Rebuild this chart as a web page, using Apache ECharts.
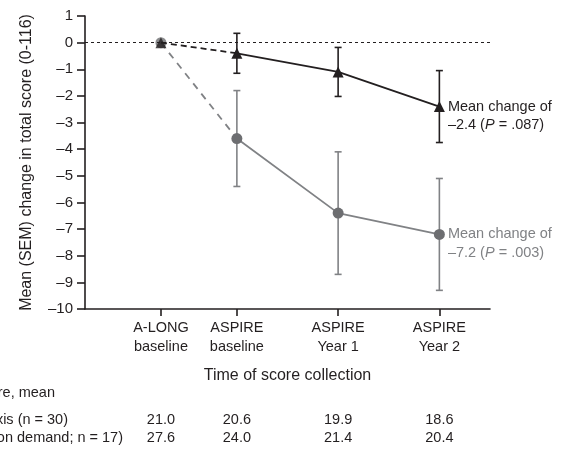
<!DOCTYPE html>
<html>
<head>
<meta charset="utf-8">
<script src="https://cdn.jsdelivr.net/npm/echarts@6/dist/echarts.min.js"></script>
<style>
html,body{margin:0;padding:0;background:#fff;}
#chart{width:564px;height:449px;}
</style>
</head>
<body>
<div id="chart"></div>
<script>
// ---- data ----
const timePoints = [0, 9, 21, 33]; // months from A-LONG baseline
const categories = ['A-LONG\nbaseline', 'ASPIRE\nbaseline', 'ASPIRE\nYear 1', 'ASPIRE\nYear 2'];
const prophylaxisMean = [0, -0.4, -1.1, -2.4];
const prophylaxisSem = [0, 0.75, 0.92, 1.35];
const onDemandMean = [0, -3.6, -6.4, -7.2];
const onDemandSem = [0, 1.8, 2.3, 2.1];
const prophylaxisNote = ['Mean change of', '–2.4 (', 'P', ' = .087)'];
const onDemandNote = ['Mean change of', '–7.2 (', 'P', ' = .003)'];
const tableLabels = ['Total score, mean', 'Prophylaxis (n = 30)', 'Episodic (on demand; n = 17)'];
const prophylaxisScore = ['21.0', '20.6', '19.9', '18.6'];
const onDemandScore = ['27.6', '24.0', '21.4', '20.4'];
const yTitle = 'Mean (SEM) change in total score (0-116)';
const xTitle = 'Time of score collection';

const FONT = '"Liberation Sans", Arial, sans-serif';
const BLACK = '#231f20';
const GRAY_LINE = '#808285';
const GRAY_MARK = '#6d6e71';
const FS = 14.5;

function pts(means, from, to) {
  const out = [];
  for (let i = from; i <= to; i++) out.push([timePoints[i], means[i]]);
  return out;
}
function errData(means, sems) {
  const out = [];
  for (let i = 1; i < means.length; i++) out.push([timePoints[i], means[i] - sems[i], means[i] + sems[i]]);
  return out;
}
function errSeries(means, sems, color, z) {
  return {
    type: 'custom', z: z, silent: true,
    data: errData(means, sems),
    renderItem: function (params, api) {
      const x = api.value(0);
      const lo = api.coord([x, api.value(1)]);
      const hi = api.coord([x, api.value(2)]);
      const w = 3.5;
      const st = { stroke: color, lineWidth: 1.6 };
      return { type: 'group', children: [
        { type: 'line', shape: { x1: lo[0], y1: lo[1], x2: hi[0], y2: hi[1] }, style: st },
        { type: 'line', shape: { x1: lo[0] - w, y1: lo[1], x2: lo[0] + w, y2: lo[1] }, style: st },
        { type: 'line', shape: { x1: hi[0] - w, y1: hi[1], x2: hi[0] + w, y2: hi[1] }, style: st }
      ]};
    }
  };
}
function noteLabel(note, color) {
  return {
    show: true, position: 'right', distance: 3, offset: [0, 9.3],
    formatter: '{a|' + note[0] + '}\n{a|' + note[1] + '}{i|' + note[2] + '}{a|' + note[3] + '}',
    rich: {
      a: { fontFamily: FONT, fontSize: FS, color: color, lineHeight: 18.6 },
      i: { fontFamily: FONT, fontSize: FS, color: color, lineHeight: 18.6, fontStyle: 'italic' }
    }
  };
}
function solidData(means, note, color) {
  const d = pts(means, 1, 3);
  const last = d.length - 1;
  d[last] = { value: d[last], label: noteLabel(note, color) };
  return d;
}

const chart = echarts.init(document.getElementById('chart'), null, { renderer: 'canvas' });
const option = {
  animation: false,
  backgroundColor: '#fff',
  textStyle: { fontFamily: FONT },
  grid: { left: 85, right: 74, top: 16, bottom: 140, containLabel: false, outerBoundsMode: 'none' },
  xAxis: {
    type: 'value', min: -9, max: 39,
    splitLine: { show: false },
    axisLine: { show: true, onZero: false, lineStyle: { color: BLACK, width: 1.6 } },
    axisTick: { show: true, customValues: timePoints, length: 7, lineStyle: { color: BLACK, width: 1.6 } },
    axisLabel: {
      customValues: timePoints, margin: 9.5,
      fontFamily: FONT, fontSize: FS, color: BLACK, lineHeight: 19,
      formatter: function (v) { const i = timePoints.indexOf(v); return i >= 0 ? categories[i] : ''; }
    },
    name: xTitle, nameLocation: 'middle', nameGap: 59,
    nameTextStyle: { fontFamily: FONT, fontSize: 16, color: BLACK }
  },
  yAxis: {
    type: 'value', min: -10, max: 1, interval: 1,
    splitLine: { show: false },
    axisLine: { show: true, onZero: false, lineStyle: { color: BLACK, width: 1.6 } },
    axisTick: { show: true, length: 8, lineStyle: { color: BLACK, width: 1.6 } },
    axisLabel: {
      margin: 12, fontFamily: FONT, fontSize: 15, color: BLACK,
      formatter: function (v) { return v < 0 ? '–' + Math.abs(v) : String(v); }
    },
    name: yTitle, nameLocation: 'middle', nameGap: 50, nameRotate: 90,
    nameTextStyle: { fontFamily: FONT, fontSize: 16, color: BLACK }
  },
  series: [
    {
      type: 'line', z: 1, silent: true, data: [], symbol: 'none',
      markLine: {
        silent: true, symbol: 'none', label: { show: false },
        lineStyle: { color: BLACK, type: [3, 3], width: 1 },
        data: [{ yAxis: 0 }]
      }
    },
    errSeries(onDemandMean, onDemandSem, GRAY_LINE, 2),
    {
      type: 'line', z: 3, data: pts(onDemandMean, 0, 1), symbol: 'none',
      lineStyle: { color: GRAY_LINE, width: 1.8, type: [7, 6] }
    },
    {
      type: 'line', z: 4, data: solidData(onDemandMean, onDemandNote, GRAY_LINE),
      symbol: 'circle', symbolSize: 11, showAllSymbol: true,
      itemStyle: { color: GRAY_MARK },
      lineStyle: { color: GRAY_LINE, width: 1.8 }
    },
    {
      type: 'scatter', z: 4, data: [[timePoints[0], onDemandMean[0]]],
      symbol: 'circle', symbolSize: 11, itemStyle: { color: GRAY_MARK }
    },
    errSeries(prophylaxisMean, prophylaxisSem, BLACK, 5),
    {
      type: 'line', z: 6, data: pts(prophylaxisMean, 0, 1), symbol: 'none',
      lineStyle: { color: BLACK, width: 1.8, type: [6, 4] }
    },
    {
      type: 'line', z: 7, data: solidData(prophylaxisMean, prophylaxisNote, BLACK),
      symbol: 'triangle', symbolSize: 11, showAllSymbol: true,
      itemStyle: { color: BLACK },
      lineStyle: { color: BLACK, width: 1.8 }
    },
    {
      type: 'scatter', z: 7, data: [[timePoints[0], prophylaxisMean[0]]],
      symbol: 'triangle', symbolSize: 11, itemStyle: { color: BLACK }
    }
  ]
};
chart.setOption(option);

// bottom table, positioned via the x axis scale
const graphics = [];
const rowY = [393, 420, 438];
const labelRight = [55, 68, 123];
for (let r = 0; r < tableLabels.length; r++) {
  graphics.push({ type: 'text', x: labelRight[r], y: rowY[r],
    style: { text: tableLabels[r], fontFamily: FONT, fontSize: FS, fill: BLACK, align: 'right', verticalAlign: 'middle' } });
}
for (let i = 0; i < timePoints.length; i++) {
  const px = chart.convertToPixel({ xAxisIndex: 0 }, timePoints[i]);
  graphics.push({ type: 'text', x: px, y: rowY[1],
    style: { text: prophylaxisScore[i], fontFamily: FONT, fontSize: FS, fill: BLACK, align: 'center', verticalAlign: 'middle' } });
  graphics.push({ type: 'text', x: px, y: rowY[2],
    style: { text: onDemandScore[i], fontFamily: FONT, fontSize: FS, fill: BLACK, align: 'center', verticalAlign: 'middle' } });
}
chart.setOption({ graphic: graphics });
</script>
</body>
</html>
